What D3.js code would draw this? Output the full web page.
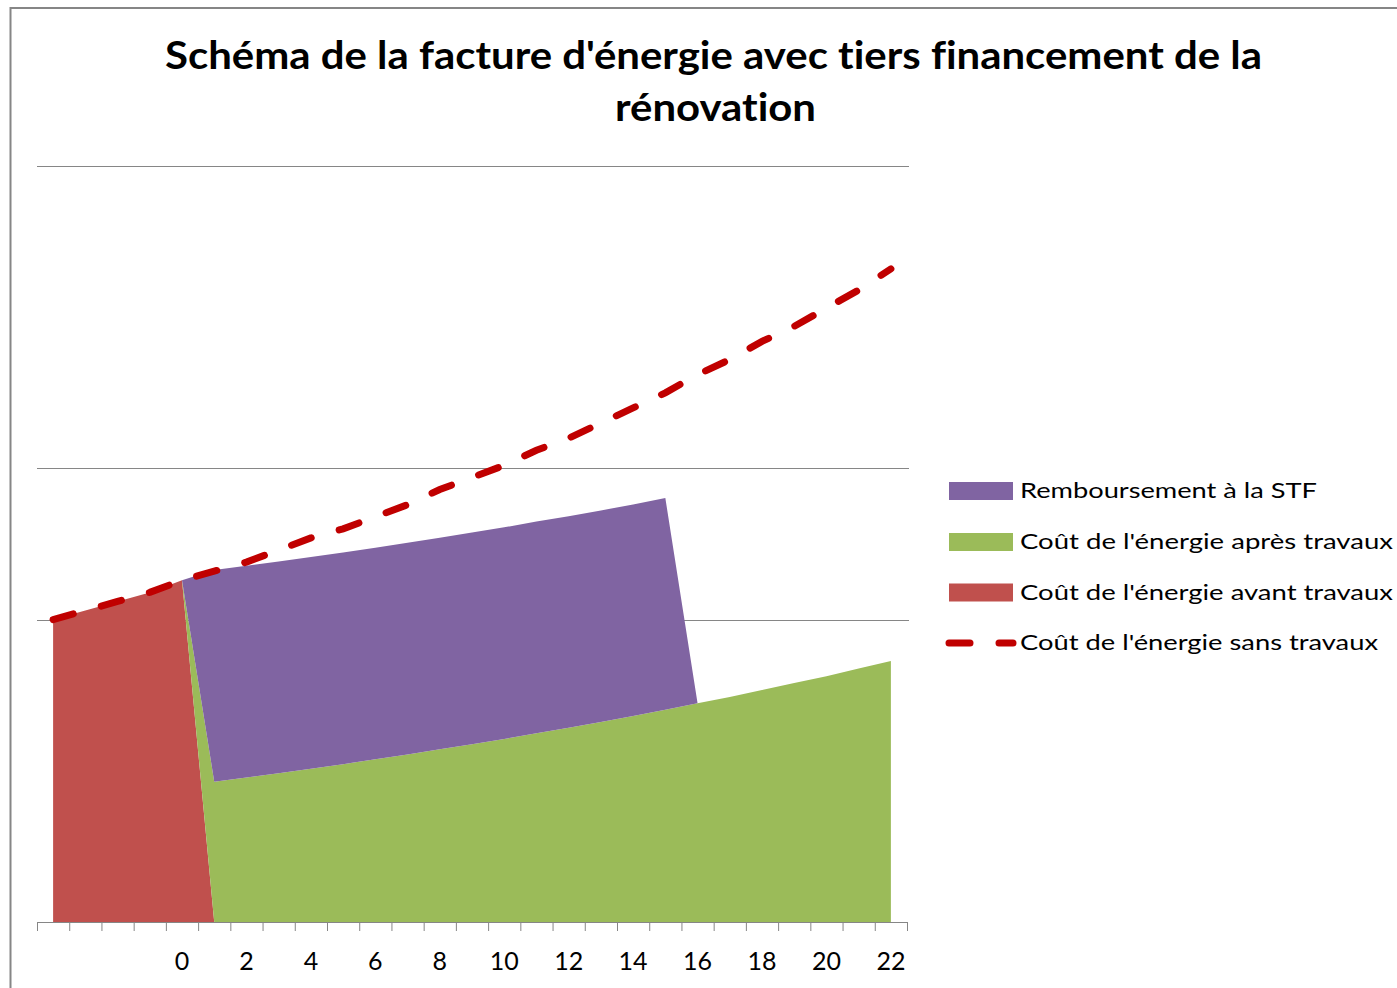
<!DOCTYPE html>
<html>
<head>
<meta charset="utf-8">
<script src="https://cdn.jsdelivr.net/npm/d3@7"></script>
<style>
  body { margin: 0; background: #fff; }
  svg { display: block; font-family: Lato, "Open Sans", sans-serif; font-variant-ligatures: none; }
</style>
</head>
<body>
<svg id="chart" width="1397" height="988"></svg>
<script>
const years = [-4, -3, -2, -1, 0, 1, 2, 3, 4, 5, 6, 7, 8, 9, 10, 11, 12, 13, 14, 15, 16, 17, 18, 19, 20, 21, 22];

// cout de l'energie sans travaux (ligne pointillee)
const sansTravaux = [100, 103, 106, 109, 113, 116, 119, 123, 127, 130, 134, 138, 143, 147, 151,
                     156, 160, 165, 170, 175, 181, 186, 192, 197, 203, 209, 216];
const avantTravaux = [100, 103, 106, 109, 113, 0, 0, 0, 0, 0, 0, 0, 0, 0, 0,
                      0, 0, 0, 0, 0, 0, 0, 0, 0, 0, 0, 0];
const apresTravaux = [0, 0, 0, 0, 0, 46.4, 47.8, 49.2, 50.7, 52.2, 53.8, 55.4, 57.1, 58.8, 60.5,
                      62.4, 64.2, 66.1, 68.1, 70.2, 72.3, 74.4, 76.7, 79.0, 81.3, 83.8, 86.3];
const remboursement = [0, 0, 0, 0, 0, 70, 70, 70, 70, 70, 70, 70, 70, 70, 70,
                       70, 70, 70, 70, 70, 0, 0, 0, 0, 0, 0, 0];

const gridValues = [100, 150, 250];

const seriesNames = ["Remboursement à la STF", "Coût de l'énergie après travaux",
                     "Coût de l'énergie avant travaux", "Coût de l'énergie sans travaux"];

const colors = { remb: "#8064A2", apres: "#9BBB59", avant: "#C0504D", sans: "#C00000" };

const rows = years.map((yr, i) => ({
  year: yr,
  avant: avantTravaux[i],
  apres: apresTravaux[i],
  remb: remboursement[i],
  sans: sansTravaux[i]
}));

const xLeft = 37, xRight = 907, yTop = 166, yBottom = 922;

const x = d3.scaleBand(years, [xLeft, xRight]);
const cx = d => x(d) + x.bandwidth() / 2;
const y = d3.scaleLinear([0, 250], [yBottom, yTop]);

const svg = d3.select("#chart");

// cadre du graphique
svg.append("rect")
  .attr("x", 10.5).attr("y", 8)
  .attr("width", 1400).attr("height", 1000)
  .attr("fill", "none")
  .attr("stroke", "#868686")
  .attr("stroke-width", 2);

// titre
const title = svg.append("text")
  .attr("text-anchor", "middle")
  .attr("font-weight", "bold")
  .attr("font-size", 39)
  .attr("fill", "#000");
title.append("tspan").attr("x", 713.5).attr("y", 69)
  .text("Schéma de la facture d'énergie avec tiers financement de la");
title.append("tspan").attr("x", 715.5).attr("y", 121)
  .text("rénovation");
const tWidths = [1097, 201];
title.selectAll("tspan").each(function(d, i) {
  d3.select(this).attr("textLength", tWidths[i]).attr("lengthAdjust", "spacingAndGlyphs");
});

// grille
svg.append("g")
  .selectAll("line")
  .data(gridValues)
  .join("line")
  .attr("x1", xLeft).attr("x2", xRight + 2)
  .attr("y1", d => Math.round(y(d)) + 0.5)
  .attr("y2", d => Math.round(y(d)) + 0.5)
  .attr("stroke", "#868686")
  .attr("stroke-width", 1);

// aires empilees
const stack = d3.stack().keys(["avant", "apres", "remb"]);
const layers = stack(rows);

const areaMaker = d3.area()
  .x(d => cx(d.data.year))
  .y0(d => y(d[0]))
  .y1(d => y(d[1]));

svg.append("g")
  .selectAll("path")
  .data(layers)
  .join("path")
  .attr("d", areaMaker)
  .attr("fill", d => colors[d.key]);

// ligne sans travaux
const lineMaker = d3.line()
  .x(d => cx(d.year))
  .y(d => y(d.sans));

svg.append("path")
  .datum(rows)
  .attr("d", lineMaker)
  .attr("fill", "none")
  .attr("stroke", colors.sans)
  .attr("stroke-width", 7)
  .attr("stroke-linecap", "round")
  .attr("stroke-dasharray", "21,29");

// axe des x : graduations entre les categories
const xb = d3.scaleLinear([0, years.length], [xLeft, xRight]);
svg.append("g")
  .attr("transform", `translate(0, ${yBottom})`)
  .call(d3.axisBottom(xb).tickValues(d3.range(0, years.length + 1)).tickSize(9).tickSizeOuter(0).tickFormat(""))
  .call(g => g.select(".domain").attr("stroke", "#868686").attr("d", `M${xLeft},0.5H${xRight}`))
  .call(g => g.selectAll(".tick line").attr("stroke", "#868686"));

// etiquettes une categorie sur deux
svg.append("g")
  .attr("transform", `translate(0, ${yBottom})`)
  .call(d3.axisBottom(x).tickSize(0).tickFormat(d => (d >= 0 && d % 2 === 0) ? d : ""))
  .call(g => g.select(".domain").remove())
  .call(g => g.selectAll(".tick text")
    .attr("y", 48).attr("dy", null)
    .attr("font-size", 25)
    .attr("font-family", "Lato, sans-serif")
    .attr("fill", "#000"));

// legende
const legendY = [491, 542, 592.5, 643];
const legendW = [297, 373, 373, 358];
const legend = svg.append("g");
const keys = ["remb", "apres", "avant", "sans"];

keys.forEach((k, i) => {
  if (k === "sans") {
    legend.append("line")
      .attr("x1", 949).attr("x2", 1013)
      .attr("y1", legendY[i]).attr("y2", legendY[i])
      .attr("stroke", colors.sans)
      .attr("stroke-width", 7)
      .attr("stroke-linecap", "round")
      .attr("stroke-dasharray", "21,29");
  } else {
    legend.append("rect")
      .attr("x", 949).attr("y", legendY[i] - 9)
      .attr("width", 64).attr("height", 18)
      .attr("fill", colors[k]);
  }
  legend.append("text")
    .attr("x", 1020).attr("y", legendY[i] + 7)
    .attr("font-size", 21.5)
    .attr("fill", "#000")
    .attr("textLength", legendW[i])
    .attr("lengthAdjust", "spacingAndGlyphs")
    .text(seriesNames[i]);
});
</script>
</body>
</html>
